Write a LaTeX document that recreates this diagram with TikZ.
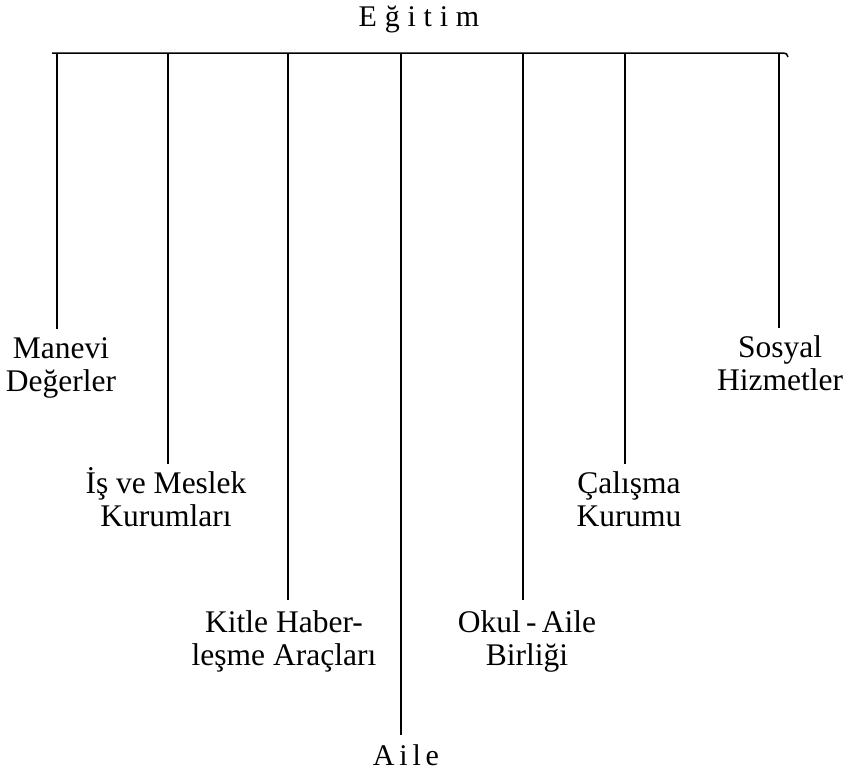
\documentclass[tikz,border=0pt]{standalone}
\usepackage{fontspec}
\setmainfont{Liberation Serif}
\begin{document}
\begin{tikzpicture}[x=1pt,y=-1pt,
  lbl/.style={font=\fontsize{31.5}{33}\selectfont, align=center, anchor=base, inner sep=0pt},
  spaced/.style={font=\fontsize{30}{33}\selectfont\addfontfeature{LetterSpace=#1}, anchor=base, inner sep=0pt},
  bar/.style={line width=1.5pt},
  branch/.style={line width=1.1pt, shorten >=62pt},
  mainbranch/.style={line width=2.2pt, shorten >=30pt}]
\useasboundingbox (0,0) rectangle (847,771);

% title
\node[spaced=26] (egitim) at (419,27) {Eğitim};

% bar
\coordinate (barL) at (52,53);
\coordinate (barR) at (781,53);
\draw[bar] (barL) -- (barR) .. controls (786,53) and (788,54) .. (788,57);

% branch tops
\coordinate (t1) at (57,53);
\coordinate (t2) at (168,53);
\coordinate (t3) at (288,53);
\coordinate (t4) at (401,53);
\coordinate (t5) at (523,53);
\coordinate (t6) at (625,53);
\coordinate (t7) at (779,53);

% labels (positioned by the baseline of their last line)
\node[lbl] (manevi) at (61,391) {Manevi\\Değerler};
\node[lbl] (is) at (166,526) {İş ve Meslek\\Kurumları};
\node[lbl] (kitle) at (284,665) {Kitle Haber-\\leşme Araçları};
\node[spaced=16] (aile) at (406,765) {Aile};
\node[lbl] (okul) at (527,665) {Okul\hspace{0.17em}-\hspace{0.17em}Aile\\Birliği};
\node[lbl] (calisma) at (629,526) {Çalışma\\Kurumu};
\node[lbl] (sosyal) at (780,390) {Sosyal\\Hizmetler};

% connectors
\draw[branch] (t1) -- (t1 |- manevi.base);
\draw[branch] (t2) -- (t2 |- is.base);
\draw[branch, shorten >=65pt] (t3) -- (t3 |- kitle.base);
\draw[mainbranch] (t4) -- (t4 |- aile.base);
\draw[branch, shorten >=65pt] (t5) -- (t5 |- okul.base);
\draw[branch] (t6) -- (t6 |- calisma.base);
\draw[branch] (t7) -- (t7 |- sosyal.base);
\end{tikzpicture}
\end{document}
